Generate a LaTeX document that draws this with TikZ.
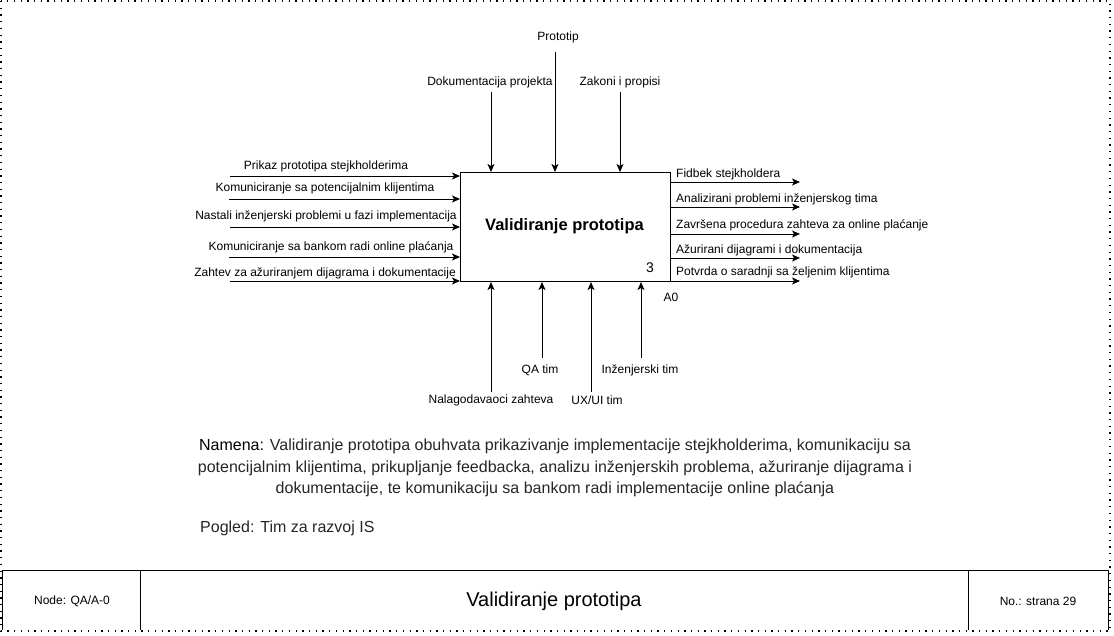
\documentclass[tikz,border=0pt]{standalone}
\usepackage{fontspec}
\setmainfont{Liberation Sans}
\usetikzlibrary{arrows.meta}
\begin{document}
\begin{tikzpicture}[x=1pt,y=-1pt,
  lbl/.style={font=\fontsize{12}{14}\selectfont, inner sep=0pt, text=black},
  arr/.style={-{Stealth[length=8pt,width=7pt,inset=2pt]}, line width=1pt},
  solid1/.style={line width=1pt},
  frame/.style={line width=1.3pt, dash pattern=on 1.3pt off 5.4pt},
]
\useasboundingbox (0,0) rectangle (1114,635);
% frame
\draw[frame] (1,1) rectangle (1110,631);
% main box
\node[draw, line width=1pt, minimum width=210pt, minimum height=109pt, anchor=north west, inner sep=0pt] (box) at (460,172) {};
\node[font=\fontsize{16.5}{19}\selectfont\bfseries, inner sep=0pt] (title) at (564.5,226) {Validiranje prototipa};
\node[font=\fontsize{14}{16}\selectfont, inner sep=0pt] (num) at (650,268) {3};
\node[lbl] (a0) at (671,297) {A0};
% inputs
\coordinate (i1) at (230,176);
\coordinate (i2) at (229,199);
\coordinate (i3) at (230,227);
\coordinate (i4) at (229,257);
\coordinate (i5) at (230,281);
\foreach \c in {i1,i2,i3,i4,i5} \draw[arr] (\c) -- (\c -| box.west);
\node[lbl] (li1) at (326,166) {Prikaz prototipa stejkholderima};
\node[lbl] (li2) at (325,188) {Komuniciranje sa potencijalnim klijentima};
\node[lbl] (li3) at (326,216) {Nastali inženjerski problemi u fazi implementacija};
\node[lbl] (li4) at (331,247) {Komuniciranje sa bankom radi online plaćanja};
\node[lbl] (li5) at (325,273) {Zahtev za ažuriranjem dijagrama i dokumentacije};
% outputs
\coordinate (o1) at (800,182);
\coordinate (o2) at (800,207);
\coordinate (o3) at (800,234);
\coordinate (o4) at (800,258);
\coordinate (o5) at (800,281);
\foreach \c in {o1,o2,o3,o4,o5} \draw[arr] (\c -| box.east) -- (\c);
\node[lbl, anchor=west] (lo1) at (676,174) {Fidbek stejkholdera};
\node[lbl, anchor=west] (lo2) at (676,199) {Analizirani problemi inženjerskog tima};
\node[lbl, anchor=west] (lo3) at (676,225) {Završena procedura zahteva za online plaćanje};
\node[lbl, anchor=west] (lo4) at (676,250) {Ažurirani dijagrami i dokumentacija};
\node[lbl, anchor=west] (lo5) at (676,272) {Potvrda o saradnji sa željenim klijentima};
% controls
\coordinate (c1) at (491,92);
\coordinate (c2) at (555,52);
\coordinate (c3) at (620,92);
\foreach \c in {c1,c2,c3} \draw[arr] (\c) -- (\c |- box.north);
\node[lbl] (lc1) at (490,82) {Dokumentacija projekta};
\node[lbl] (lc2) at (558,37) {Prototip};
\node[lbl] (lc3) at (620,82) {Zakoni i propisi};
% mechanisms
\coordinate (m1) at (491,392);
\coordinate (m2) at (542,358);
\coordinate (m3) at (591,392);
\coordinate (m4) at (641,358);
\foreach \c in {m1,m2,m3,m4} \draw[arr] (\c) -- (\c |- box.south);
\node[lbl] (lm1) at (491,400) {Nalagodavaoci zahteva};
\node[lbl] (lm2) at (540,370) {QA tim};
\node[lbl] (lm3) at (597,400) {UX/UI tim};
\node[lbl] (lm4) at (640,370) {Inženjerski tim};
% description
\node[font=\fontsize{16}{21.5}\selectfont, align=center, inner sep=0pt] (desc) at (555,468) {Namena: {\color{black!85}Validiranje prototipa obuhvata prikazivanje implementacije stejkholderima, komunikaciju sa}\\ {\color{black!85}potencijalnim klijentima, prikupljanje feedbacka, analizu inženjerskih problema, ažuriranje dijagrama i}\\ {\color{black!85}dokumentacije, te komunikaciju sa bankom radi implementacije online plaćanja}};
\node[font=\fontsize{16}{19}\selectfont, anchor=west, inner sep=0pt, text=black!85] (view) at (200,528) {Pogled: Tim za razvoj IS};
% footer
\coordinate (fl) at (2,570);
\coordinate (fd1) at (140,570);
\coordinate (fd2) at (968,570);
\coordinate (fr) at (1108,570);
\draw[solid1] (fl |- 0,630) -- (fl) -- (fr) -- (fr |- 0,630);
\draw[solid1] (fd1) -- (fd1 |- 0,630);
\draw[solid1] (fd2) -- (fd2 |- 0,630);
\node[lbl] (fnode) at (72,601) {Node: QA/A-0};
\node[font=\fontsize{20}{24}\selectfont, inner sep=0pt] (ftitle) at (554,601) {Validiranje prototipa};
\node[lbl] (fno) at (1038,601) {No.: strana 29};
\end{tikzpicture}
\end{document}
